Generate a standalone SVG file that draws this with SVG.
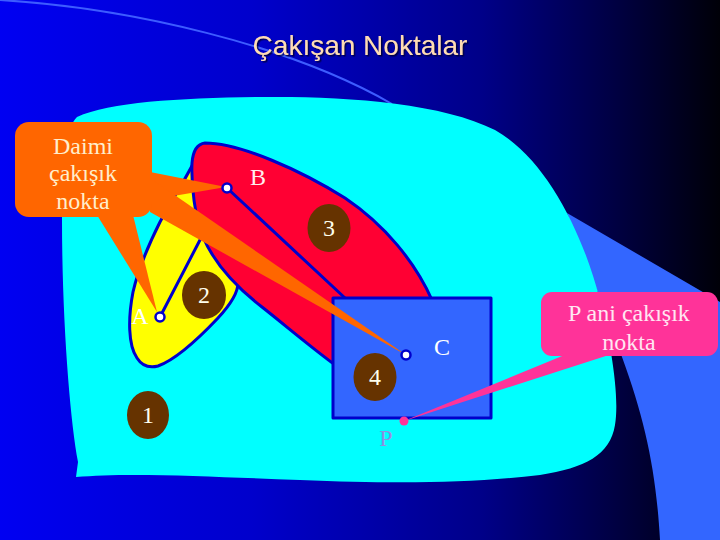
<svg xmlns="http://www.w3.org/2000/svg" width="720" height="540" viewBox="0 0 720 540">
<defs>
<linearGradient id="bg" x1="0" y1="0" x2="1" y2="0">
<stop offset="0" stop-color="#0000f2"/>
<stop offset="0.35" stop-color="#0000cc"/>
<stop offset="0.67" stop-color="#000088"/>
<stop offset="0.86" stop-color="#000040"/>
<stop offset="1" stop-color="#000008"/>
</linearGradient>
<filter id="sh" x="-10%" y="-30%" width="120%" height="160%">
<feDropShadow dx="1.5" dy="1.5" stdDeviation="0.6" flood-color="#000033" flood-opacity="0.8"/>
</filter>
</defs>
<style>
.outline{stroke:#0000cc;stroke-width:3;stroke-linejoin:round}
.bar{stroke:#0000cc;stroke-width:3;fill:none;stroke-linecap:round}
.num{fill:#663300}
.serif{font-family:"Liberation Serif","Times New Roman",serif;font-size:24px;text-anchor:middle}
.numt{fill:#ffffee}
.joint{fill:#ffffff;stroke:#0000cc;stroke-width:2.5}
.orange{fill:#ff6600}
.pink{fill:#ff3399}
</style>
<rect x="0" y="0" width="720" height="540" fill="url(#bg)"/>
<path d="M0,0 C130,8 290,45 392,104" fill="none" stroke="#3d5cff" stroke-width="2"/>
<path id="swoosh" d="M567,213 L720,302 L720,540 L660,540 C656,470 645,420 622,357 C605,310 585,260 567,213 Z" fill="#3366ff"/>
<g id="ground">
<path d="M77,117 C110,102 180,98 260,97 C340,96 440,102 495,130 C545,158 582,230 600,300 C610,340 620,395 615,425 C610,455 585,468 540,475 C470,483 400,484 300,480 C220,477 130,472 76,477 L78,462 C70,420 62,320 62,220 C62,160 66,128 77,117 Z" fill="#00ffff"/>
</g>
<text x="360" y="55" font-family="'Liberation Sans',Arial,sans-serif" font-size="28" fill="#ffdcb4" text-anchor="middle" filter="url(#sh)">Çakışan Noktalar</text>
<g id="link2">
<path class="outline" fill="#ffff00" d="M196,158 C188,175 172,200 160,222 C150,242 138,270 133,292 C128,318 128,345 137,358 C142,366 150,368 158,366 C175,360 200,337 218,318 C230,305 238,292 238,283 C236,265 215,235 200,200 Z"/>
</g>
<g id="link3">
<path class="outline" fill="#ff0033" d="M205,143 C240,143 300,170 345,198 C385,225 415,262 432,300 L445,372 L345,372 C320,355 285,325 262,307 C240,290 215,265 203,237 C195,218 191,185 192,163 C193,150 197,144 205,143 Z"/>
</g>
<g id="connectors">
<line class="bar" x1="160" y1="317" x2="201" y2="238"/>
<line class="bar" x1="227" y1="188" x2="345" y2="298"/>
</g>
<g id="link4">
<rect class="outline" x="333" y="298" width="158" height="120" fill="#3366ff"/>
</g>
<g id="n1"><ellipse class="num" cx="148" cy="415" rx="21" ry="24"/><text class="serif numt" x="148" y="423">1</text></g>
<g id="n2"><ellipse class="num" cx="204" cy="295" rx="22" ry="24"/><text class="serif numt" x="204" y="303">2</text></g>
<g id="n3"><ellipse class="num" cx="329" cy="228" rx="21.5" ry="24"/><text class="serif numt" x="329" y="236">3</text></g>
<g id="n4"><ellipse class="num" cx="375" cy="377" rx="21.5" ry="24"/><text class="serif numt" x="375" y="385">4</text></g>
<g id="labels">
<text class="serif" x="140" y="324" fill="#ffffff">A</text>
<text class="serif" x="258" y="185" fill="#ffeeee">B</text>
<text class="serif" x="442" y="355" fill="#ffffff">C</text>
<text class="serif" x="386" y="446" fill="#8f8fe0">P</text>
</g>
<g id="callout-daimi">
<polygon class="orange" points="97,215 133,215 157,312"/>
<polygon class="orange" points="150,172 150,200 226,187"/>
<polygon class="orange" points="150,178 150,212 406,355"/>
<rect class="orange" x="15" y="122" width="137" height="95" rx="14"/>
<text class="serif" fill="#ffeecc" x="83" y="154">Daimi</text>
<text class="serif" fill="#ffeecc" x="83" y="181">çakışık</text>
<text class="serif" fill="#ffeecc" x="83" y="209">nokta</text>
</g>
<g id="callout-p">
<polygon class="pink" points="567,354 612,354 404,421"/>
<rect class="pink" x="541" y="292" width="177" height="64" rx="11"/>
<text class="serif" fill="#ffe6f2" x="629" y="321">P ani çakışık</text>
<text class="serif" fill="#ffe6f2" x="629" y="350">nokta</text>
</g>
<g id="joints">
<circle id="jA" class="joint" cx="160" cy="317" r="4.5"/>
<circle id="jB" class="joint" cx="227" cy="188" r="4.5"/>
<circle id="jC" class="joint" cx="406" cy="355" r="4.5"/>
<circle id="jP" class="pink" cx="404" cy="421" r="4.5"/>
</g>
</svg>
